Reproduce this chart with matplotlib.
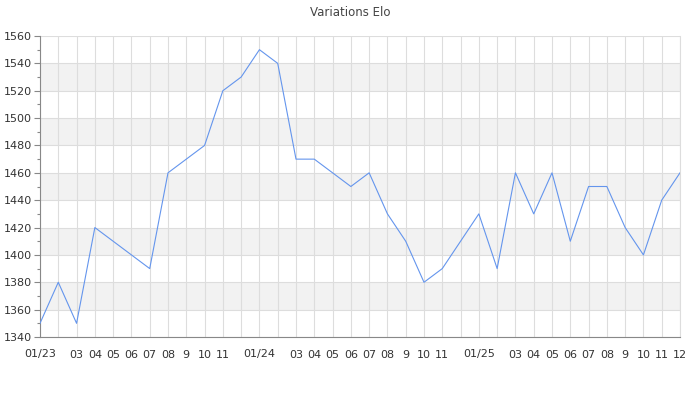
import matplotlib
matplotlib.use("Agg")
import matplotlib.pyplot as plt
from matplotlib.ticker import MultipleLocator

months = ["01/23", "02", "03", "04", "05", "06", "07", "08", "9", "10", "11", "12",
          "01/24", "02", "03", "04", "05", "06", "07", "08", "9", "10", "11", "12",
          "01/25", "02", "03", "04", "05", "06", "07", "08", "9", "10", "11", "12"]
elo = [1350, 1380, 1350, 1420, 1410, 1400, 1390, 1460, 1470, 1480, 1520, 1530,
       1550, 1540, 1470, 1470, 1460, 1450, 1460, 1430, 1410, 1380, 1390, 1410,
       1430, 1390, 1460, 1430, 1460, 1410, 1450, 1450, 1420, 1400, 1440, 1460]
hidden_labels = {1, 11, 13, 23, 25}

fig = plt.figure(figsize=(7, 4), dpi=100)
ax = fig.add_axes([40/700, 1-337/400, 640/700, 301/400])

x = list(range(len(elo)))
ymin, ymax = 1340, 1560
for i, y0 in enumerate(range(ymin, ymax, 20)):
    if i % 2 == 1:
        ax.axhspan(y0, y0 + 20, color="#f2f2f2", zorder=0, lw=0)

ax.plot(x, elo, color="#6495ED", lw=0.8, zorder=3)
ax.set_xlim(0, len(elo) - 1)
ax.set_ylim(ymin, ymax)

ax.set_xticks(x)
ax.set_xticklabels(["" if i in hidden_labels else m for i, m in enumerate(months)])
ax.yaxis.set_major_locator(MultipleLocator(20))
ax.yaxis.set_minor_locator(MultipleLocator(10))
ax.grid(True, which="major", color="#dddddd", lw=0.8, zorder=1)
ax.set_axisbelow(True)

for s in ["top"]:
    ax.spines[s].set_visible(False)
ax.spines["right"].set_color("#dddddd")
ax.spines["right"].set_linewidth(0.8)
ax.spines["left"].set_color("#888888")
ax.spines["bottom"].set_color("#888888")
ax.tick_params(axis="x", length=0, pad=9, labelsize=8, colors="#333333")
ax.tick_params(axis="y", which="major", length=4, width=0.8, color="#888888", labelsize=8, labelcolor="#333333", pad=2)
ax.tick_params(axis="y", which="minor", length=2.5, width=0.8, color="#888888")

fig.text(0.5, 1-12/400, "Variations Elo", ha="center", va="center", fontsize=8.5, color="#444444")
fig.savefig("out.png", dpi=100)
